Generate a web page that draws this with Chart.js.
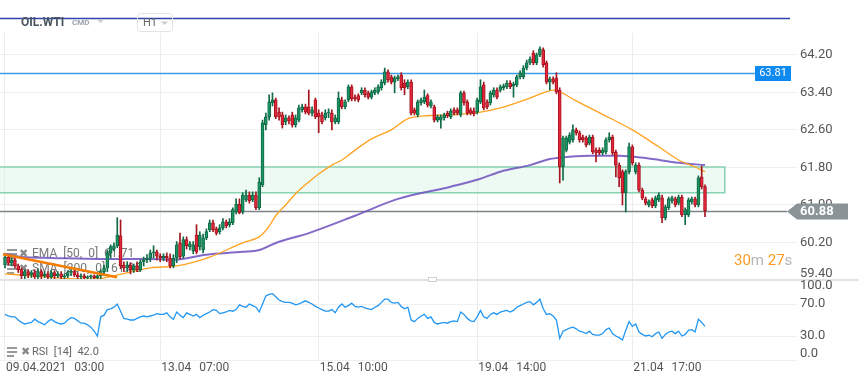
<!DOCTYPE html>
<html>
<head>
<meta charset="utf-8">
<script src="https://cdn.jsdelivr.net/npm/chart.js@4.4.1/dist/chart.umd.min.js"></script>
<style>
  html, body { margin: 0; padding: 0; background: #fff; }
  #wrap { width: 859px; height: 385px; position: relative; }
</style>
</head>
<body>
<div id="wrap"><canvas id="c" width="859" height="385"></canvas></div>
<script>
// OIL.WTI H1 candles, 09.04.2021 03:00 .. 21.04 ~22:00 (one bar per hour)
const open = [
  59.72,59.89,59.76,59.83,59.70,59.62,59.49,59.58,59.51,59.56,
  59.47,59.58,59.49,59.53,59.47,59.56,59.49,59.53,59.47,59.49,
  59.56,59.58,59.51,59.47,59.49,59.45,59.47,59.49,59.45,59.49,
  59.58,59.66,59.98,60.06,60.13,60.34,59.72,59.66,59.72,59.62,
  59.70,59.62,59.79,59.83,59.87,59.98,60.00,59.91,59.87,59.91,
  59.87,59.70,59.87,60.19,59.91,60.26,60.11,60.02,60.36,60.11,
  60.04,60.30,60.47,60.62,60.49,60.43,60.51,60.64,60.58,60.62,
  60.85,61.02,60.85,61.11,61.21,61.11,61.21,60.94,61.43,62.71,
  62.88,63.18,63.24,62.98,62.92,62.77,62.86,62.92,62.71,62.81,
  63.03,63.09,63.09,62.96,63.24,62.96,62.92,62.86,62.96,62.96,
  62.77,62.77,63.24,63.09,63.24,63.52,63.30,63.33,63.39,63.45,
  63.39,63.30,63.39,63.41,63.50,63.60,63.84,63.73,63.62,63.69,
  63.77,63.60,63.52,63.62,63.03,62.92,63.18,63.20,63.33,63.11,
  63.09,62.81,62.81,62.86,62.96,62.88,63.03,63.03,62.92,63.39,
  63.20,63.03,63.01,62.98,63.20,63.56,63.20,63.18,63.35,63.45,
  63.45,63.50,63.52,63.60,63.54,63.56,63.73,63.73,63.92,64.03,
  64.24,64.03,64.20,64.31,64.03,63.62,63.69,63.71,63.45,61.81,
  62.17,62.34,62.39,62.60,62.54,62.45,62.43,62.32,62.45,62.17,
  62.17,62.11,62.13,62.39,62.45,62.13,61.85,61.71,61.26,61.71,
  62.24,61.71,61.85,61.32,61.13,61.00,61.11,60.98,61.11,61.15,
  60.73,60.94,61.09,61.13,61.04,61.17,60.79,60.79,61.07,61.13,
  61.00,61.60,61.39
];
const high = [
  59.96,59.94,59.87,59.87,59.74,59.66,59.62,59.62,59.60,59.62,
  59.64,59.62,59.58,59.58,59.60,59.60,59.58,59.58,59.53,59.60,
  59.62,59.62,59.56,59.53,59.53,59.49,59.51,59.51,59.51,59.62,
  59.72,60.04,60.15,60.19,60.73,60.68,59.79,59.79,59.77,59.74,
  59.79,59.83,59.89,59.94,60.04,60.13,60.04,59.96,59.96,59.98,
  59.96,59.94,60.22,60.40,60.32,60.32,60.22,60.22,60.58,60.43,
  60.38,60.49,60.68,60.68,60.53,60.58,60.71,60.68,60.71,60.94,
  61.13,61.13,61.26,61.32,61.28,61.28,61.28,61.58,62.81,62.96,
  63.35,63.39,63.28,63.07,62.98,62.92,62.90,62.98,62.92,63.13,
  63.15,63.15,63.45,63.09,63.28,63.03,62.98,63.03,63.05,63.03,
  62.92,63.41,63.30,63.24,63.56,63.56,63.35,63.37,63.50,63.50,
  63.43,63.45,63.50,63.56,63.67,63.92,63.88,63.77,63.75,63.77,
  63.82,63.67,63.67,63.67,63.07,63.24,63.28,63.45,63.37,63.24,
  63.13,62.92,62.92,62.96,63.00,63.05,63.07,63.07,63.43,63.43,
  63.24,63.07,63.07,63.28,63.67,63.62,63.24,63.43,63.50,63.50,
  63.56,63.58,63.65,63.65,63.62,63.77,63.86,63.97,64.09,64.16,
  64.29,64.24,64.37,64.35,64.07,63.73,63.73,63.82,63.50,62.47,
  62.47,62.54,62.71,62.64,62.58,62.49,62.47,62.49,62.49,62.22,
  62.22,62.22,62.43,62.54,62.49,62.17,61.90,61.75,61.75,62.32,
  62.28,61.90,61.90,61.36,61.17,61.11,61.15,61.19,61.26,61.21,
  61.00,61.17,61.19,61.17,61.21,61.21,60.94,61.15,61.17,61.17,
  61.62,61.83,61.43
];
const low = [
  59.66,59.72,59.70,59.66,59.56,59.43,59.43,59.45,59.45,59.43,
  59.43,59.43,59.45,59.43,59.43,59.43,59.45,59.43,59.43,59.45,
  59.49,59.47,59.43,59.43,59.41,59.41,59.43,59.41,59.41,59.43,
  59.49,59.58,59.87,60.02,60.09,59.64,59.58,59.58,59.53,59.56,
  59.58,59.58,59.70,59.77,59.79,59.87,59.83,59.79,59.81,59.79,
  59.66,59.66,59.77,59.85,59.87,60.06,60.04,59.96,59.96,60.04,
  59.98,60.26,60.43,60.43,60.36,60.38,60.47,60.51,60.53,60.58,
  60.81,60.81,60.81,61.07,61.04,61.07,60.90,60.90,61.39,62.60,
  62.81,63.11,62.84,62.81,62.64,62.71,62.73,62.66,62.66,62.77,
  62.98,62.94,62.92,62.90,62.84,62.54,62.73,62.81,62.86,62.60,
  62.73,62.73,63.05,63.05,63.20,63.22,63.22,63.20,63.35,63.30,
  63.26,63.26,63.35,63.37,63.45,63.56,63.62,63.58,63.39,63.65,
  63.45,63.35,63.48,62.92,62.92,62.88,63.13,63.16,63.09,63.07,
  62.77,62.77,62.64,62.81,62.86,62.84,62.92,62.92,62.88,63.13,
  62.92,62.92,62.90,62.94,63.16,63.03,63.05,63.13,63.30,63.26,
  63.41,63.45,63.48,63.48,63.30,63.52,63.69,63.69,63.88,63.99,
  63.99,63.99,64.16,63.94,63.58,63.45,63.58,63.37,61.47,61.53,
  62.13,62.30,62.34,62.49,62.34,62.34,62.24,62.28,62.09,61.92,
  62.07,62.07,62.09,62.34,62.07,61.60,61.39,61.00,60.85,61.66,
  61.85,61.66,61.28,61.11,61.00,60.96,60.94,60.94,61.07,60.62,
  60.68,60.90,61.04,60.96,61.00,60.75,60.58,60.75,61.02,60.96,
  60.96,61.34,60.75
];
const close = [
  59.89,59.76,59.83,59.70,59.62,59.49,59.58,59.51,59.56,59.47,
  59.58,59.49,59.53,59.47,59.56,59.49,59.53,59.47,59.49,59.56,
  59.58,59.51,59.47,59.49,59.45,59.47,59.49,59.45,59.49,59.58,
  59.66,59.98,60.11,60.13,60.36,59.70,59.66,59.72,59.62,59.70,
  59.62,59.79,59.83,59.87,59.98,60.00,59.91,59.87,59.91,59.87,
  59.70,59.87,60.15,59.89,60.26,60.13,60.17,60.15,60.00,60.36,
  60.30,60.43,60.62,60.47,60.40,60.51,60.64,60.56,60.64,60.90,
  61.02,60.83,61.21,61.21,61.09,61.21,60.94,61.49,62.75,62.88,
  63.20,63.24,62.88,62.88,62.71,62.86,62.79,62.71,62.86,63.07,
  63.09,62.98,62.96,63.03,62.88,62.88,62.77,62.96,62.98,62.77,
  62.86,63.28,63.09,63.20,63.52,63.26,63.26,63.24,63.45,63.35,
  63.30,63.41,63.45,63.52,63.62,63.84,63.67,63.62,63.71,63.73,
  63.50,63.50,63.62,62.96,62.96,63.20,63.24,63.30,63.13,63.20,
  62.81,62.88,62.88,62.92,62.90,63.00,62.96,62.96,63.39,63.18,
  62.96,62.96,62.94,63.24,63.52,63.07,63.09,63.39,63.45,63.30,
  63.52,63.54,63.60,63.52,63.58,63.73,63.82,63.92,64.03,64.11,
  64.03,64.20,64.33,63.99,63.62,63.69,63.62,63.41,61.81,62.43,
  62.43,62.49,62.60,62.54,62.39,62.39,62.28,62.45,62.13,62.11,
  62.11,62.17,62.39,62.45,62.11,61.85,61.58,61.26,61.71,62.24,
  61.90,61.85,61.32,61.15,61.04,61.07,60.98,61.15,61.21,60.73,
  60.96,61.13,61.15,61.00,61.17,60.79,60.90,61.11,61.13,61.00,
  61.58,61.39,60.88
];
const rsi = [
  57,55,54,54,50,47,45,46,47,51, 48,46,44,48,51,48,46,45,46,50,
  53,52,49,46,46,44,41,36,30,54, 56,63,64,66,70,61,52,51,50,50,
  52,54,55,54,55,56,58,57,57,59, 54,51,60,56,53,59,57,55,57,53,
  56,58,60,63,62,58,59,60,62,61, 63,69,67,66,70,68,66,60,70,80,
  82,83,79,75,73,72,72,71,69,70, 72,74,72,70,67,65,63,61,61,63,
  59,66,70,66,68,71,67,66,67,65, 64,63,66,68,72,76,76,72,71,72,
  67,64,66,50,48,52,55,57,52,54, 47,45,46,47,46,48,49,48,60,57,
  52,49,48,54,62,54,52,57,59,57, 60,61,62,60,62,66,68,70,72,73,
  69,72,76,64,57,58,55,50,27,36, 38,40,41,39,36,35,33,36,32,31,
  31,33,38,40,33,30,28,25,37,48, 42,45,35,32,30,31,29,33,35,27,
  32,35,36,33,36,30,32,37,38,35, 51,47,42
];
// EMA 50 and SMA 200, read at bar positions
const emaIdx = [0,8,17,26,29,33,38,44,52,62,72,77,78,80,82,85,88,92,95,99,102,106,111,117,122,127,135,144,150,159,163,166,168,173,183,190,198,204,209,212];
const emaVal = [59.53,59.49,59.44,59.42,59.43,59.49,59.57,59.66,59.70,59.89,60.19,60.32,60.38,60.55,60.77,61.00,61.24,61.49,61.66,61.85,61.96,62.17,62.41,62.60,62.84,62.90,62.92,62.98,63.07,63.28,63.39,63.45,63.41,63.22,62.86,62.60,62.24,61.96,61.81,61.71];
const smaIdx = [0,5,14,29,44,51,61,72,77,82,92,106,119,135,144,150,159,165,167,177,186,194,204,212];
const smaVal = [59.96,59.89,59.87,59.85,59.85,59.83,59.94,60.00,60.04,60.19,60.40,60.77,61.13,61.39,61.56,61.71,61.85,61.98,62.00,62.05,62.05,62.00,61.90,61.85];
// drawn trend line (bar index, price)
const trendIdx = [-0.6, 33.9];
const trendVal = [59.95, 59.46];

const priceTicks = [59.4, 60.2, 61.0, 61.8, 62.6, 63.4, 64.2];
const rsiTicks = [0, 30, 70, 100];
const timeTickIdx = [0, 47, 95, 143, 190];
const timeTickDate = ['09.04.2021', '13.04', '15.04', '19.04', '21.04'];
const timeTickHour = ['03:00', '07:00', '10:00', '14:00', '17:00'];

const topLevel = 64.99;
const resistance = 63.81;
const lastPrice = 60.88;
const zoneHigh = 61.81, zoneLow = 61.26, zoneEnd = 218;

const UP = '#1c9464', UP_EDGE = '#0f6a45', DN = '#e4283c', DN_EDGE = '#a5141f';
const isUp = close.map((c, i) => c >= open[i]);

Chart.defaults.font.family = 'Roboto, "Noto Sans", sans-serif';

const overlay = {
  id: 'overlay',
  beforeDatasetsDraw(chart) {
    const { ctx, chartArea: a, scales: { x, y } } = chart;
    ctx.save();
    // zone
    const zx1 = x.getPixelForValue(zoneEnd);
    const zy0 = y.getPixelForValue(zoneHigh), zy1 = y.getPixelForValue(zoneLow);
    ctx.fillStyle = 'rgba(214,241,228,0.45)';
    ctx.fillRect(a.left, zy0, zx1 - a.left, zy1 - zy0);
    ctx.strokeStyle = '#86d3b1';
    ctx.lineWidth = 1.5;
    ctx.strokeRect(a.left - 3, zy0, zx1 - a.left + 3, zy1 - zy0);
    // levels
    const lv = (v, x1, col) => {
      const py = Math.round(y.getPixelForValue(v)) + 0.5;
      ctx.strokeStyle = col; ctx.lineWidth = 1.5;
      ctx.beginPath(); ctx.moveTo(0, py); ctx.lineTo(x1, py); ctx.stroke();
    };
    lv(lastPrice, a.right - 10, '#7c8487');
    lv(resistance, a.right - 42, '#3f9be8');
    lv(topLevel, a.right - 7, '#3342ad');
    // indicator legends (behind candles)
    ctx.font = '12px Roboto';
    ctx.textBaseline = 'middle';
    const legend = (ty, txt) => {
      ctx.fillStyle = '#9a9a9a';
      ctx.fillRect(7, ty - 5, 10, 2); ctx.fillRect(7, ty - 1, 10, 2); ctx.fillRect(7, ty + 3, 7, 2);
      ctx.fillStyle = '#8a8a8a';
      ctx.font = 'bold 11px "DejaVu Sans"';
      ctx.fillText('✖', 19, ty);
      ctx.font = '12px Roboto';
      ctx.fillStyle = '#777';
      ctx.fillText(txt, 32, ty);
    };
    legend(254, 'EMA  [50,  0]  61.71');
    legend(269, 'SMA  [200,  0]  61.85');
    ctx.restore();
  },
  afterDraw(chart) {
    const { ctx, chartArea: a, scales: { x, y, yRsi } } = chart;
    ctx.save();
    // panel separator
    ctx.fillStyle = '#e3e3e3';
    ctx.fillRect(0, y.bottom - 1, 859, 2);
    ctx.fillStyle = '#fff'; ctx.strokeStyle = '#d0d0d0'; ctx.lineWidth = 1;
    ctx.fillRect(428, y.bottom - 3, 9, 5); ctx.strokeRect(428.5, y.bottom - 2.5, 8, 4);
    // price axis labels
    ctx.font = '13px Roboto';
    ctx.fillStyle = '#555';
    ctx.textAlign = 'left';
    ctx.textBaseline = 'middle';
    priceTicks.forEach(v => {
      const py = Math.min(y.getPixelForValue(v), y.bottom - 6);
      ctx.fillText(v.toFixed(2), a.right + 3, py);
    });
    rsiTicks.forEach(v => {
      let py = yRsi.getPixelForValue(v);
      py = Math.max(yRsi.top + 6, Math.min(py, yRsi.bottom - 6));
      ctx.fillText(v.toFixed(1), a.right + 3, py);
    });
    // resistance label
    const ry = Math.round(y.getPixelForValue(resistance));
    ctx.fillStyle = '#0f8af0';
    ctx.fillRect(a.right - 42, ry - 7, 36, 15);
    ctx.fillStyle = '#fff';
    ctx.font = '11px Roboto';
    ctx.textAlign = 'center';
    ctx.fillText(resistance.toFixed(2), a.right - 24, ry + 0.5);
    // last price label
    const ly = Math.round(y.getPixelForValue(lastPrice)) + 0.5;
    ctx.fillStyle = '#8a9497';
    ctx.beginPath();
    ctx.moveTo(a.right - 10, ly); ctx.lineTo(a.right, ly - 8); ctx.lineTo(a.right + 51, ly - 8);
    ctx.lineTo(a.right + 51, ly + 8); ctx.lineTo(a.right, ly + 8); ctx.closePath(); ctx.fill();
    ctx.fillStyle = '#fff';
    ctx.font = 'bold 13px Roboto';
    ctx.textAlign = 'left';
    ctx.fillText(lastPrice.toFixed(2), a.right + 3, ly + 0.5);
    // countdown
    ctx.font = '15px Roboto';
    let cx = 734;
    [['30', '#ff9a1f'], ['m', '#b5b5b5'], [' 27', '#ff9a1f'], ['s', '#b5b5b5']].forEach(([t, c]) => {
      ctx.fillStyle = c; ctx.fillText(t, cx, 261); cx += ctx.measureText(t).width;
    });
    // time labels
    ctx.font = '12px Roboto';
    ctx.fillStyle = '#555';
    timeTickIdx.forEach((v, k) => {
      const px = x.getPixelForValue(v) + 1;
      ctx.fillText(timeTickDate[k], px, 368);
      const w = ctx.measureText(timeTickDate[k]).width;
      ctx.fillText(timeTickHour[k], px + w + 8, 368);
    });
    // RSI legend
    const ty = 352;
    ctx.fillStyle = '#9a9a9a';
    ctx.fillRect(7, ty - 5, 10, 2); ctx.fillRect(7, ty - 1, 10, 2); ctx.fillRect(7, ty + 3, 7, 2);
    ctx.fillStyle = '#8a8a8a';
    ctx.font = 'bold 11px "DejaVu Sans"';
    ctx.fillText('✖', 21, ty);
    ctx.font = '11px Roboto';
    ctx.fillStyle = '#666';
    ctx.fillText('RSI  [14]  42.0', 32, ty);
    // header
    ctx.fillStyle = '#4a5561';
    ctx.font = 'bold 12px Roboto';
    ctx.fillText('OIL.WTI', 21, 23);
    ctx.fillStyle = '#9aa3ab';
    ctx.font = 'bold 8px Roboto';
    ctx.fillText('CMD', 72, 23);
    const caret = (cx0, cy0, col) => {
      ctx.fillStyle = col; ctx.beginPath();
      ctx.moveTo(cx0, cy0); ctx.lineTo(cx0 + 7, cy0); ctx.lineTo(cx0 + 3.5, cy0 + 3.5); ctx.closePath(); ctx.fill();
    };
    caret(97, 19.5, '#c8cdd2');
    ctx.strokeStyle = '#e2e5e8'; ctx.lineWidth = 1;
    ctx.beginPath(); ctx.roundRect(137.5, 13.5, 35, 18, 3); ctx.stroke();
    ctx.fillStyle = '#666';
    ctx.font = '11px Roboto';
    ctx.fillText('H1', 143, 23);
    caret(161, 21.5, '#c8cdd2');
    ctx.restore();
  }
};

const candleData = (a, b) => close.map((c, i) => ({ x: i, y: [a[i], b[i]] }));

new Chart(document.getElementById('c'), {
  type: 'bar',
  data: {
    datasets: [
      {
        type: 'line', label: 'trend', yAxisID: 'y', order: 0,
        data: trendIdx.map((v, k) => ({ x: v, y: trendVal[k] })),
        borderColor: '#f57c00', borderWidth: 2.5, pointRadius: 0
      },
      {
        label: 'body', yAxisID: 'y', order: 1, grouped: false,
        data: candleData(open, close),
        backgroundColor: isUp.map(u => u ? UP : DN),
        borderColor: isUp.map(u => u ? UP_EDGE : DN_EDGE),
        borderWidth: 1, borderSkipped: false, barThickness: 3
      },
      {
        label: 'wick', yAxisID: 'y', order: 2, grouped: false,
        data: candleData(low, high),
        backgroundColor: isUp.map(u => u ? UP_EDGE : DN_EDGE),
        borderWidth: 0, barThickness: 1
      },
      {
        type: 'line', label: 'EMA 50', yAxisID: 'y', order: 3,
        data: emaIdx.map((v, k) => ({ x: v, y: emaVal[k] })),
        borderColor: '#ffa21f', borderWidth: 1.3, pointRadius: 0, cubicInterpolationMode: 'monotone'
      },
      {
        type: 'line', label: 'SMA 200', yAxisID: 'y', order: 4,
        data: smaIdx.map((v, k) => ({ x: v, y: smaVal[k] })),
        borderColor: 'rgba(110,80,190,0.85)', borderWidth: 2, pointRadius: 0, cubicInterpolationMode: 'monotone'
      },
      {
        type: 'line', label: 'RSI 14', yAxisID: 'yRsi', order: 5,
        data: rsi.map((v, i) => ({ x: i, y: v })),
        borderColor: '#2196f3', borderWidth: 1.3, pointRadius: 0
      }
    ]
  },
  options: {
    responsive: false,
    animation: false,
    events: [],
    devicePixelRatio: 1,
    layout: { padding: { top: 33, bottom: 25, left: 0, right: 0 } },
    plugins: { legend: { display: false }, tooltip: { enabled: false } },
    scales: {
      x: {
        type: 'linear', min: -1.514, max: 239.86, offset: false,
        grid: { color: '#ececec', offset: false, drawTicks: false },
        border: { display: false },
        ticks: { display: false },
        afterBuildTicks: s => { s.ticks = timeTickIdx.map(v => ({ value: v })); },
        afterFit: s => { s.height = 0; }
      },
      y: {
        position: 'right', stack: 'panes', stackWeight: 247,
        min: 59.4, max: 64.667, beginAtZero: false,
        grid: { color: '#efefef', drawTicks: false },
        border: { display: false },
        ticks: { display: false },
        afterBuildTicks: s => { s.ticks = priceTicks.map(v => ({ value: v })); },
        afterFit: s => { s.width = 62; }
      },
      yRsi: {
        position: 'right', stack: 'panes', stackWeight: 80,
        min: 0, max: 100,
        grid: { color: '#efefef', drawTicks: false },
        border: { display: false },
        ticks: { display: false },
        afterBuildTicks: s => { s.ticks = rsiTicks.map(v => ({ value: v })); },
        afterFit: s => { s.width = 62; }
      }
    }
  },
  plugins: [overlay]
});
</script>
</body>
</html>
